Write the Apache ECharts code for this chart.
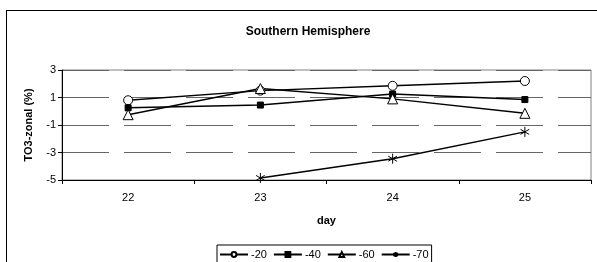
<!DOCTYPE html>
<html>
<head>
<meta charset="utf-8">
<script src="https://cdn.jsdelivr.net/npm/echarts@6/dist/echarts.min.js"></script>
<style>
html,body{margin:0;padding:0;background:#fff;}
#frame{position:absolute;left:6px;top:10px;width:600px;height:260px;border:1px solid #000;box-sizing:border-box;}
#chart{position:absolute;left:0;top:0;width:597px;height:262px;}
</style>
</head>
<body>
<div id="frame"></div>
<div id="chart"></div>
<script>
var days = ['22', '23', '24', '25'];
var s20 = [0.8, 1.5, 1.85, 2.2];
var s40 = [0.25, 0.45, 1.25, 0.85];
var s60 = [-0.25, 1.65, 0.9, -0.15];
var s70 = [null, -4.85, -3.45, -1.5];
var names = ['-20', '-40', '-60', '-70'];

var font = 'Liberation Sans, Arial, sans-serif';
var star = 'path://M5,0L5,10M0.7,2.5L9.3,7.5M0.7,7.5L9.3,2.5';

function mk(name, data, symbol, size, fill) {
	return {
		name: name,
		type: 'line',
		data: data,
		symbol: symbol,
		symbolSize: size,
		symbolKeepAspect: true,
		showAllSymbol: true,
		connectNulls: false,
		lineStyle: {color: '#000', width: 1.5},
		itemStyle: {color: fill, borderColor: '#000', borderWidth: 1},
		emphasis: {disabled: true},
		animation: false
	};
}

var myChart = echarts.init(document.getElementById('chart'));
myChart.setOption({
	animation: false,
	title: {
		text: 'Southern Hemisphere',
		left: 303, top: 21, textAlign: 'center',
		textStyle: {fontFamily: font, fontSize: 12, fontWeight: 'bold', color: '#000'}
	},
	grid: {left: 62, right: 6, top: 70, bottom: 82, show: true, borderColor: '#808080', borderWidth: 1},
	legend: {
		data: names,
		left: 217, top: 245,
		itemWidth: 28, itemHeight: 6, itemGap: 6,
		padding: [4, 3, 4, 2],
		borderColor: '#000', borderWidth: 1,
		textStyle: {fontFamily: font, fontSize: 11, color: '#000', padding: [0, 0, 0, -2]}
	},
	xAxis: {
		type: 'category',
		data: days,
		boundaryGap: true,
		name: 'day',
		nameLocation: 'middle',
		nameGap: 35,
		nameTextStyle: {fontFamily: font, fontSize: 11, fontWeight: 'bold', color: '#000'},
		axisLine: {onZero: false, lineStyle: {color: '#000', width: 1}},
		axisTick: {show: true, length: 4, lineStyle: {color: '#000'}},
		axisLabel: {fontFamily: font, fontSize: 11, color: '#000', margin: 12},
		splitLine: {show: false}
	},
	yAxis: {
		type: 'value',
		min: -5, max: 3, interval: 2,
		name: 'TO3-zonal (%)',
		nameLocation: 'middle',
		nameGap: 28,
		nameTextStyle: {fontFamily: font, fontSize: 11, fontWeight: 'bold', color: '#000'},
		axisLine: {show: true, lineStyle: {color: '#000', width: 1}},
		axisTick: {show: true, length: 4, lineStyle: {color: '#000'}},
		axisLabel: {fontFamily: font, fontSize: 11, color: '#000', margin: 6},
		splitLine: {show: true, lineStyle: {color: '#666', width: 1, type: [47, 15]}}
	},
	series: [
		mk(names[0], s20, 'circle', 9, '#fff'),
		mk(names[1], s40, 'rect', 6, '#000'),
		mk(names[2], s60, 'triangle', 10, '#fff'),
		mk(names[3], s70, star, 10, 'none')
	]
});
</script>
</body>
</html>
